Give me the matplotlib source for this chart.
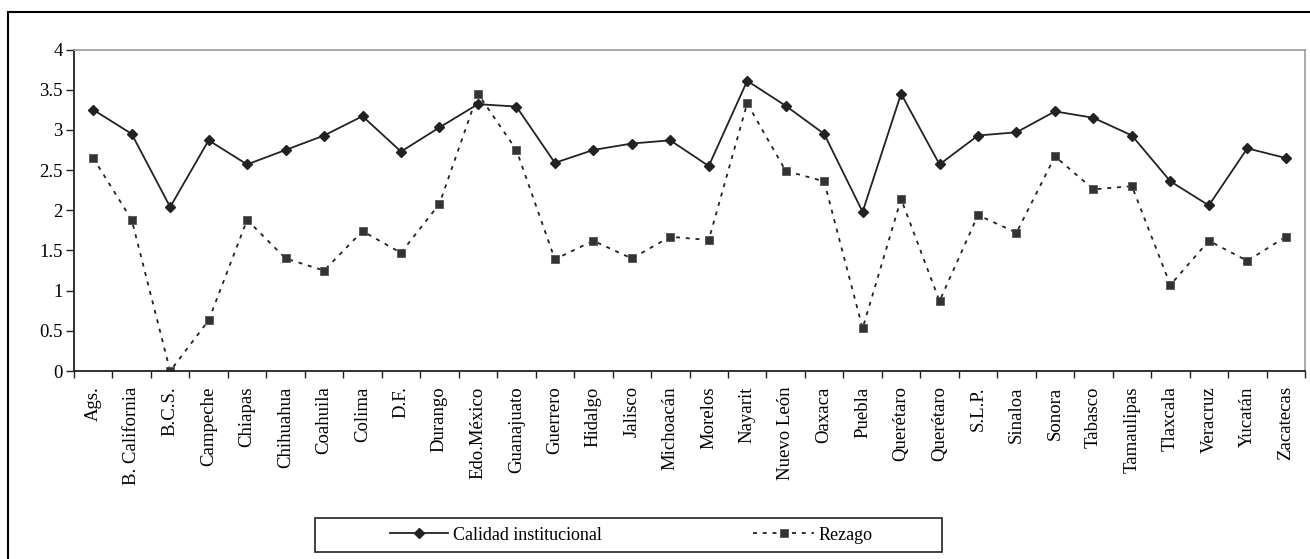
import matplotlib
matplotlib.use("Agg")
import matplotlib.pyplot as plt
from matplotlib.lines import Line2D
from matplotlib.patches import Rectangle
import numpy as np

estados = ["Ags.", "B. California", "B.C.S.", "Campeche", "Chiapas", "Chihuahua",
           "Coahuila", "Colima", "D.F.", "Durango", "Edo.México", "Guanajuato",
           "Guerrero", "Hidalgo", "Jalisco", "Michoacán", "Morelos", "Nayarit",
           "Nuevo León", "Oaxaca", "Puebla", "Querétaro", "Querétaro", "S.L.P.",
           "Sinaloa", "Sonora", "Tabasco", "Tamaulipas", "Tlaxcala", "Veracruz",
           "Yucatán", "Zacatecas"]

calidad = [3.25, 2.95, 2.04, 2.87, 2.57, 2.75, 2.93, 3.17, 2.73, 3.03,
           3.32, 3.29, 2.59, 2.75, 2.83, 2.87, 2.55, 3.61, 3.30, 2.95,
           1.98, 3.45, 2.57, 2.93, 2.97, 3.23, 3.15, 2.93, 2.36, 2.06,
           2.77, 2.65]

rezago = [2.65, 1.88, 0.00, 0.63, 1.88, 1.40, 1.25, 1.74, 1.47, 2.08,
          3.45, 2.75, 1.39, 1.62, 1.40, 1.67, 1.63, 3.33, 2.49, 2.36,
          0.53, 2.14, 0.87, 1.94, 1.72, 2.67, 2.26, 2.30, 1.07, 1.62,
          1.37, 1.67]

y_ticks = [0, 0.5, 1, 1.5, 2, 2.5, 3, 3.5, 4]
y_labels = ["0", "0.5", "1", "1.5", "2", "2.5", "3", "3.5", "4"]

plt.rcParams["font.family"] = ["Liberation Serif", "DejaVu Serif"]

W, H = 1310, 559
fig = plt.figure(figsize=(W / 100, H / 100), dpi=100)

# outer frame (only left and top edges fall inside the canvas)
fig.add_artist(Line2D([8 / W, 8 / W], [0, 1 - 12 / H], color="black", lw=1.5,
                      transform=fig.transFigure))
fig.add_artist(Line2D([8 / W, 1], [1 - 12 / H, 1 - 12 / H], color="black", lw=1.5,
                      transform=fig.transFigure))

left, right, top, bottom = 74, 1305, 49.5, 371
ax = fig.add_axes([left / W, 1 - bottom / H, (right - left) / W, (bottom - top) / H])

dash = (0, (2.2, 3.2))
x = np.arange(len(estados))
ax.plot(x, calidad, color="#222222", lw=1.3, marker="D", ms=5.5,
        markerfacecolor="#222222", markeredgecolor="#222222")
ax.plot(x, rezago, color="#222222", lw=1.3, linestyle=dash, marker="s",
        ms=5.8, markerfacecolor="#333333", markeredgecolor="#555555", markeredgewidth=0.6)

ax.set_xlim(-0.5, len(estados) - 0.5)
ax.set_ylim(0, 4)
ax.set_yticks(y_ticks)
ax.set_yticklabels(y_labels, fontsize=13.5)
ax.set_xticks(x)
ax.set_xticklabels(estados, rotation=90, fontsize=13.5)
ax.set_xticks(np.arange(-0.5, len(estados)), minor=True)
ax.tick_params(axis="x", which="major", length=0, pad=11)
ax.tick_params(axis="x", which="minor", length=5, width=1, direction="out", color="#222222")
ax.tick_params(axis="y", length=6, width=1, direction="out", color="#222222", pad=2)

for s in ("top", "right"):
    ax.spines[s].set_color("#999999")
    ax.spines[s].set_linewidth(1.2)
for s in ("left", "bottom"):
    ax.spines[s].set_color("#222222")
    ax.spines[s].set_linewidth(1.3)

# legend box
lx0, lx1, ly0, ly1 = 315, 942, 518, 552
fig.add_artist(Rectangle((lx0 / W, 1 - ly1 / H), (lx1 - lx0) / W, (ly1 - ly0) / H,
                         transform=fig.transFigure, fill=False, edgecolor="#222222", lw=1.2))

h1 = Line2D([], [], color="#222222", lw=1.3, marker="D", ms=5,
            markerfacecolor="#222222")
h2 = Line2D([], [], color="#222222", lw=1.3, linestyle=dash, marker="s",
            ms=6, markerfacecolor="#333333", markeredgecolor="#555555", markeredgewidth=0.6)
cy = 1 - (ly0 + ly1) / 2 / H
leg1 = fig.legend([h1], ["Calidad institucional"], loc="center left",
                  bbox_to_anchor=(390 / W, cy), frameon=False, fontsize=13,
                  handlelength=3.2, handletextpad=0.28, borderpad=0, borderaxespad=0)
leg2 = fig.legend([h2], ["Rezago"], loc="center left",
                  bbox_to_anchor=(753 / W, cy), frameon=False, fontsize=13,
                  handlelength=3.4, handletextpad=0.22, borderpad=0, borderaxespad=0)

fig.savefig("out.png", dpi=100, facecolor="white")
